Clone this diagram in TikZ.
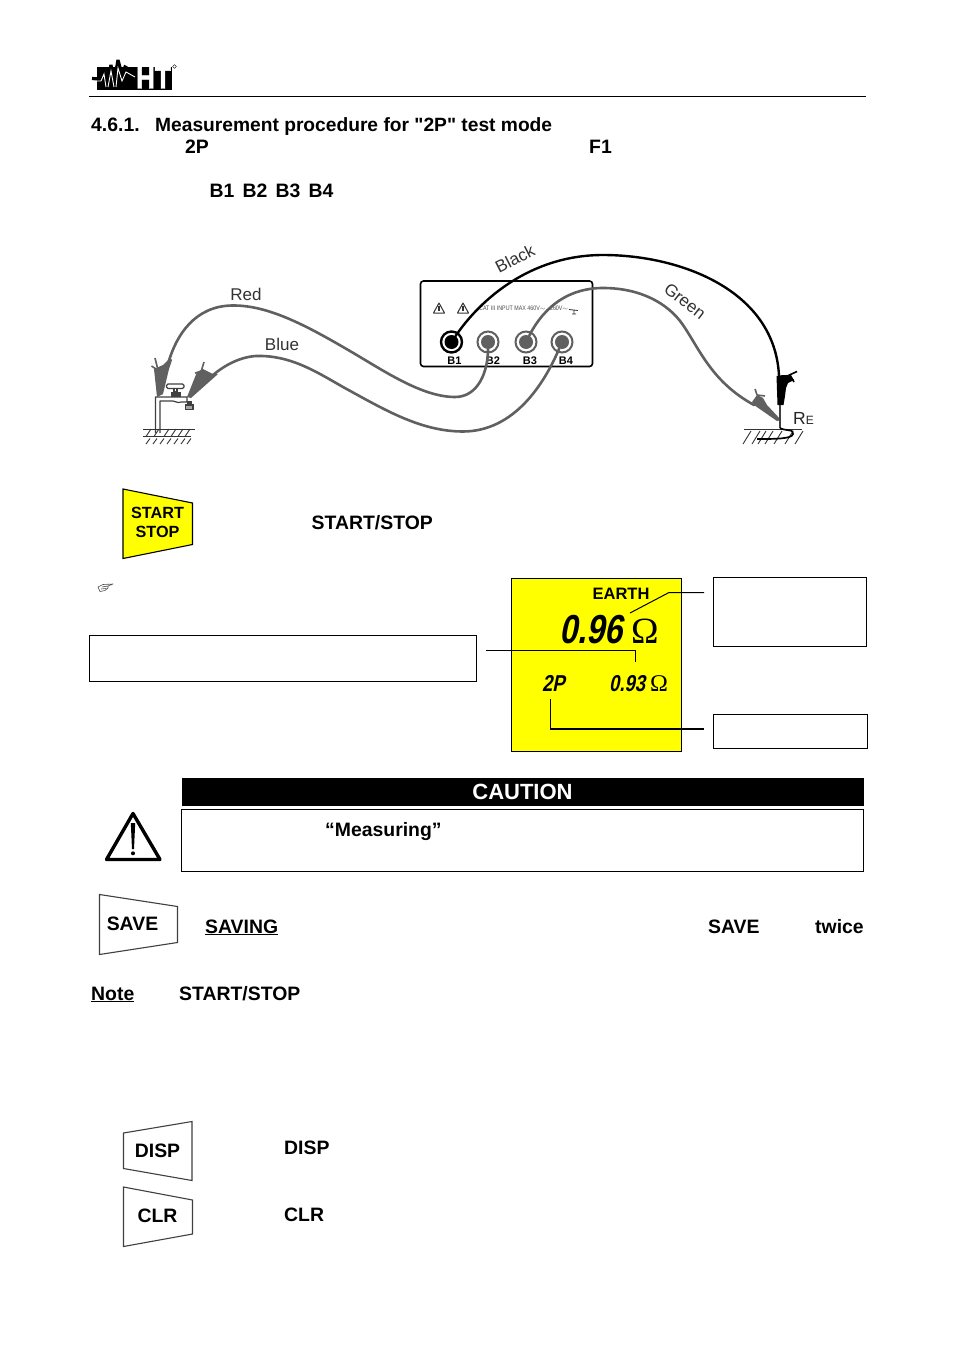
\documentclass[tikz,border=0pt]{standalone}
\usepackage{fontspec}
\setmainfont{Liberation Sans}
\newfontfamily\plainfont{Liberation Sans}
\newfontfamily\omegafont{Liberation Serif}
\newfontfamily\lcdfont[FakeStretch=0.8,FakeSlant=0.2]{Liberation Sans Bold}
\newfontfamily\catfont[FakeStretch=0.82]{Liberation Sans}
\newfontfamily\logofont[FakeStretch=0.84,FakeBold=1.5]{Liberation Sans Bold}
\definecolor{lcd}{RGB}{255,255,0}
\definecolor{wiregray}{RGB}{96,96,96}
\tikzset{
  x=1pt,y=-1pt,
  bodytext/.style={font=\fontsize{19.4}{22}\selectfont\bfseries,inner sep=0pt,anchor=base west,text=black},
  keytext/.style={font=\fontsize{19.4}{22}\selectfont\bfseries,inner sep=0pt,align=center},
  smalltext/.style={font=\fontsize{16.2}{19.5}\selectfont\bfseries,inner sep=0pt,align=center},
  keybox/.style={draw=black!75,line width=1.1pt,line join=miter},
  framebox/.style={draw=black,line width=1pt,fill=white,inner sep=0pt,outer sep=0pt,anchor=north west},
  wire/.style={draw=wiregray,line width=2.6pt,line cap=round},
  wirelabel/.style={font=\fontsize{17}{18}\selectfont,text=black!80,inner sep=0pt},
  callout/.style={draw=black,line width=1pt},
  clamp/.style={fill=wiregray,draw=none},
  hatch/.style={draw=black!80,line width=.9pt},
  jackring/.style={circle,draw=wiregray,line width=2pt,fill=white,minimum size=21pt,inner sep=0pt},
  jackcore/.style={circle,fill=wiregray,minimum size=14pt,inner sep=0pt},
  jacklabel/.style={font=\fontsize{11}{12}\selectfont\bfseries,inner sep=0pt},
  lcdbig/.style={font=\lcdfont\fontsize{40.5}{42}\selectfont,inner sep=0pt,anchor=base west},
  lcdsmall/.style={font=\lcdfont\fontsize{23}{24}\selectfont,inner sep=0pt,anchor=base west},
}
\begin{document}
\begin{tikzpicture}
\useasboundingbox (0,0) rectangle (954,1351);
\fill[white] (0,0) rectangle (954,1351);
% logo
\fill[black] (97,67) rectangle (172,90);
\draw[black,line width=3.2pt,line join=miter,miter limit=3] (92,78.5) -- (100,79) -- (103,70) -- (106,87) -- (111,65) -- (114,83) -- (118,60) -- (122,75) -- (125,67) -- (136,73);
\draw[white,line width=.9pt,line join=miter] (97,81) -- (101,81) -- (104,74) -- (106,87);
\draw[white,line width=.9pt,line join=miter] (108,87) -- (111,71) -- (114,87);
\draw[white,line width=.9pt,line join=miter] (116,87) -- (118,68) -- (122,81) -- (126,72) -- (135,77);
\node[inner sep=0pt,text=white,font=\logofont\fontsize{31}{31}\selectfont,anchor=base] (logoht) at (153.5,88.5) {HT};
\draw[black,line width=.4pt] (174.5,66.5) circle (1.8pt);
% header rule
\coordinate (ruleL) at (89,96.5); \coordinate (ruleR) at (866,96.5);
\draw[black,line width=1pt] (ruleL) -- (ruleR);
% headings
\node[bodytext] (h1a) at (91,131.5) {4.6.1.};
\node[bodytext,font=\plainfont\fontsize{19.2}{22}\selectfont\bfseries] (h1b) at (155,131.5) {Measurement procedure for "2P" test mode};
\node[bodytext] (t2p) at (185,153.5) {2P};
\node[bodytext] (tf1) at (589,153.5) {F1};
\node[bodytext] (tbs) at (209.5,197) {B1\hspace{8.2pt}B2\hspace{8.2pt}B3\hspace{8.2pt}B4};
% instrument panel
\draw[black,line width=1.6pt,rounded corners=3pt] (420.5,281) rectangle (592.5,366.5);
\node[jackring,draw=black,line width=2.4pt] (b1) at (451.5,342) {};
\node[jackcore,fill=black] (b1c) at (451.5,342) {};
\node[jackring] (b2) at (488,342) {};
\node[jackcore] (b2c) at (488,342) {};
\node[jackring] (b3) at (526,342) {};
\node[jackcore] (b3c) at (526,342) {};
\node[jackring] (b4) at (562,342) {};
\node[jackcore] (b4c) at (562,342) {};
\node[jacklabel] (lb1) at (454.5,360.5) {B1};
\node[jacklabel] (lb2) at (493,360.5) {B2};
\node[jacklabel] (lb3) at (530,360.5) {B3};
\node[jacklabel] (lb4) at (566,360.5) {B4};
\node[inner sep=0pt,font=\catfont\fontsize{6.5}{7}\selectfont,text=black!70,anchor=west] (cat) at (479,308.5) {CAT III INPUT MAX 460V$\sim$,\ \ 260V$\sim$};
\foreach \xx in {439,463} {
  \draw[black!80,line width=1pt,line join=round] (\xx,303) -- (\xx+5.5,313) -- (\xx-5.5,313) -- cycle;
  \draw[black!80,line width=1.2pt] (\xx,306) -- (\xx,311);
}
\draw[black!80,line width=.8pt] (569,309.5) -- (578,310.5) (574,310) -- (574,314) (572,314) -- (576,314);
% wire end points
\coordinate (redend) at (168,364);
\coordinate (blueend) at (213,375);
\coordinate (greenend) at (754,405);
\coordinate (blackend) at (779,376);
% wires
\draw[wire] (b2c) .. controls (488,372) and (478,397) .. (455,397) .. controls (420,397) and (380,368) .. (343,347) .. controls (300,322) and (265,305) .. (232,305.5) .. controls (195,306) and (176,335) .. (redend);
\draw[wire] (b4c) .. controls (545,382) and (515,432) .. (462,431.5) .. controls (420,431) and (385,410) .. (343,387) .. controls (315,371) and (290,355) .. (256,356) .. controls (240,357) and (225,365) .. (blueend);
\draw[wire] (b3c) .. controls (545,305) and (570,288) .. (603,288) .. controls (640,288) and (668,303) .. (683,325) .. controls (700,350) and (712,382) .. (greenend);
\draw[wire,draw=black,line width=2.4pt] (b1c) .. controls (480,300) and (530,255) .. (603,255) .. controls (680,255) and (775,290) .. (blackend);
% wire labels
\node[wirelabel] (lred) at (246,294) {Red};
\node[wirelabel] (lblue) at (282,344.5) {Blue};
\node[wirelabel,rotate=27] (lblack) at (515,259) {Black};
\node[wirelabel,rotate=-38] (lgreen) at (685,301) {Green};
\node[inner sep=0pt,anchor=base west,font=\fontsize{17.5}{18}\selectfont,text=black!85] (lre) at (793,424) {R\fontsize{12}{12}\selectfont E};
% tap
\draw[black!75,line width=1.2pt,line join=round,fill=white] (155.5,433) -- (155.5,397) -- (187,397) -- (187,402) -- (181,402) .. controls (178,404) and (174,400) .. (170,401) -- (160,401) -- (160,433);
\draw[black!75,line width=1.1pt,fill=white,rounded corners=1.5pt] (166.5,384) rectangle (184,388.5);
\draw[black!75,line width=1.1pt,fill=white] (174,388.5) rectangle (177,392);
\fill[black!75] (171,392) rectangle (181,397);
\draw[black!75,line width=1.1pt,fill=black!35] (185.5,405) rectangle (193,409.5);
\fill[black!75] (186.5,401) rectangle (191.5,405);
% clamps left
\fill[clamp] (154,369) -- (163,365) -- (170,358) -- (172,360) -- (169,369) -- (163,394) -- (157,397) -- cycle;
\draw[wiregray,line width=1.6pt] (155,358) -- (158,370) (151.5,366) -- (159,371);
\fill[clamp] (197,372) -- (203,369) -- (213,374) -- (218,374) -- (191,398) -- (187,397) -- cycle;
\draw[wiregray,line width=1.6pt] (204,362) -- (201,372) (195,373) -- (203,371);
% ground left
\draw[hatch] (143,429) -- (195,429) (143,436.5) -- (191,436.5);
\foreach \xx in {148,156,166,173,180,187} { \draw[hatch] (\xx+3,429) -- (\xx-2,436.5); }
\foreach \xx in {150,157,164,171,178,185,191} { \draw[hatch] (\xx,438.5) -- (\xx-4,444); }
% clamps right
\fill[black] (776.5,376) -- (783,375) -- (790,375) -- (794,380) -- (788,383) -- (786,388) -- (785,396) -- (783.5,405) -- (777.5,405) -- cycle;
\draw[black,line width=1.6pt] (785,377) -- (797,371.5) (790,375) -- (794,382);
\fill[clamp] (754,405) -- (752,402) -- (757,395) -- (763,398) -- (767,405) -- (781,420) -- (777,421) -- cycle;
\draw[wiregray,line width=1.6pt] (755,389) -- (757,395) (757,395) -- (765,396);
\draw[black!75,line width=1.8pt] (780,405) -- (780,428);
\draw[hatch] (744,429) -- (802,429);
\foreach \xx in {751,760,766,773,782,793,803} { \draw[hatch] (\xx,431) -- (\xx-8,444); }
\draw[black,line width=1.7pt] (780,428) .. controls (784,431) and (795,429) .. (793,434) .. controls (792,439) and (775,439) .. (757,439);
% START/STOP key
\path[keybox,fill=lcd,draw=black] (123,489) -- (192.5,503) -- (192.5,544.5) -- (123,558.5) -- cycle;
\node[smalltext] (kstart) at (157.5,522.5) {START\\STOP};
\node[bodytext] (tstart) at (311.5,529) {START/STOP};
% hand glyph
\draw[black!70,line width=.6pt,line join=round] (98,587) -- (103,584.5) -- (113,584) -- (108,586) -- (108,588) -- (105,590.5) -- (100,591.5) -- cycle (102,587) -- (108,586) (101,589) -- (106,588.5);
% LCD
\draw[black,line width=1pt,fill=lcd] (511.5,578.5) rectangle (681.5,751.5);
\node[inner sep=0pt,font=\fontsize{16.5}{18}\selectfont\bfseries,anchor=base] (learth) at (621,599) {EARTH};
\node[lcdbig] (lv1) at (559,643) {0.96};
\node[inner sep=0pt,anchor=base west,font=\omegafont\fontsize{37}{40}\selectfont] (lo1) at (631,643) {Ω};
\node[lcdsmall] (lv2) at (542,691) {2P};
\node[lcdsmall] (lv3) at (609,691) {0.93};
\node[inner sep=0pt,anchor=base west,font=\omegafont\fontsize{24}{26}\selectfont] (lo2) at (650,691) {Ω};
% frames
\node[framebox,minimum width=153.5pt,minimum height=69pt] (bxtop) at (713,577.5) {};
\node[framebox,minimum width=154pt,minimum height=34pt] (bxbot) at (713.5,714.5) {};
\node[framebox,minimum width=387pt,minimum height=46pt] (bxleft) at (89.5,635.5) {};
% callouts
\coordinate (c1a) at (704,592.5); \coordinate (c1b) at (669,592.5); \coordinate (c1c) at (630,613);
\draw[callout] (c1a) -- (c1b) -- (c1c);
\coordinate (c2a) at (486,650.5); \coordinate (c2b) at (635,650.5); \coordinate (c2c) at (635,662);
\draw[callout] (c2a) -- (c2b) -- (c2c);
\coordinate (c3a) at (704,729); \coordinate (c3b) at (550.5,729); \coordinate (c3c) at (550.5,699);
\draw[callout,line width=1.3pt] (c3a) -- (c3b) -- (c3c);
% caution
\node[fill=black,minimum width=682pt,minimum height=28pt,inner sep=0pt,outer sep=0pt,anchor=north west] (cbar) at (182,778) {};
\node[inner sep=0pt,text=white,font=\fontsize{22}{24}\selectfont\bfseries] (ctitle) at (522.5,791.5) {CAUTION};
\node[framebox,minimum width=682pt,minimum height=62pt] (cbox) at (181.5,809.5) {};
\node[bodytext] (tmeas) at (325,836) {“Measuring”};
% warning triangle
\draw[black,line width=3.4pt,line join=round] (133,813.5) -- (160,859.5) -- (106.5,859.5) -- cycle;
\fill[black] (130.8,823) -- (135.2,823) -- (134,849) -- (132,849) -- cycle;
\fill[black] (133,853.3) circle (2pt);
% SAVE key
\draw[keybox] (99.5,894.5) -- (177.5,906.5) -- (177.5,942.5) -- (99.5,954.5) -- cycle;
\node[keytext] (ksave) at (132.5,924) {SAVE};
\node[bodytext] (tsaving) at (205,933) {\underline{SAVING}};
\node[bodytext] (tsave) at (708,933) {SAVE};
\node[bodytext] (ttwice) at (815,933) {twice};
\node[bodytext] (tnote) at (91,1000) {\underline{Note}};
\node[bodytext] (tss) at (179,1000) {START/STOP};
% DISP / CLR keys
\draw[keybox] (123.5,1133) -- (192,1121.5) -- (192,1180.5) -- (123.5,1168.5) -- cycle;
\node[keytext] (kdisp) at (157.5,1151) {DISP};
\node[bodytext] (tdisp) at (284,1154) {DISP};
\draw[keybox] (123.5,1187) -- (192.5,1200) -- (192.5,1234) -- (123.5,1246.5) -- cycle;
\node[keytext] (kclr) at (157.5,1215.5) {CLR};
\node[bodytext] (tclr) at (284,1221) {CLR};
\end{tikzpicture}
\end{document}
